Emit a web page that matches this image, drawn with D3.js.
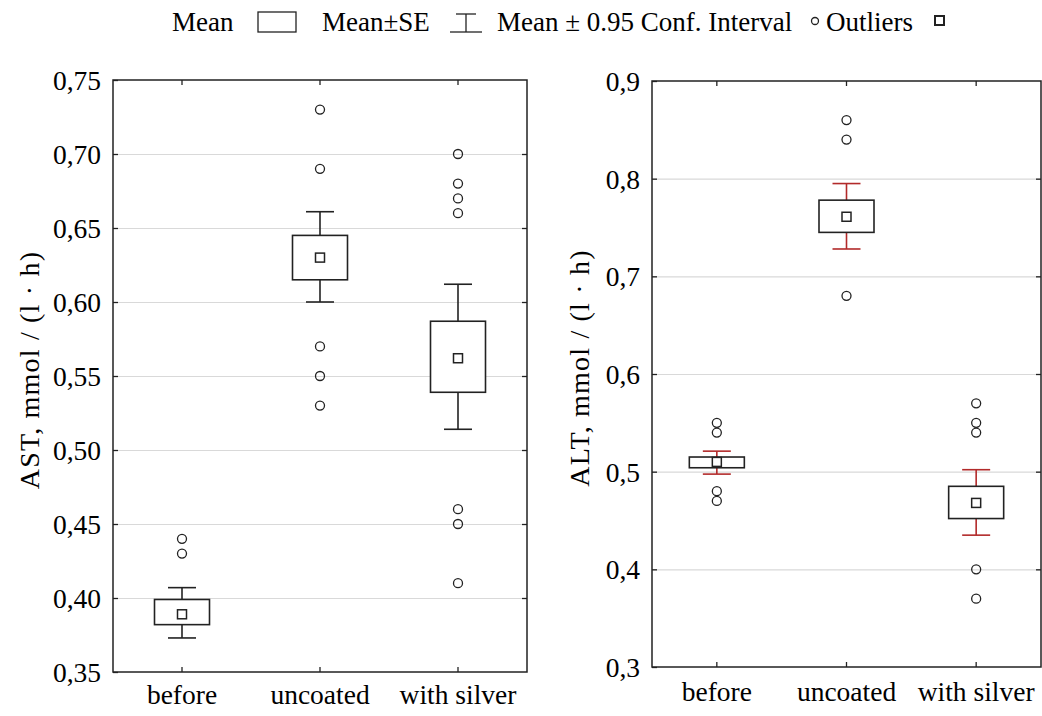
<!DOCTYPE html>
<html>
<head>
<meta charset="utf-8">
<script src="https://cdn.jsdelivr.net/npm/d3@7"></script>
<style>
  body { margin: 0; background: #fff; }
  svg text { font-family: "Liberation Serif", "Times New Roman", serif; fill: #000; }
  .axis .domain { display: none; }
  .axis line { stroke: #222; stroke-width: 1.3; }
  .grid line { stroke: #d9d9d9; stroke-width: 1.2; }
  .grid .domain { display: none; }
</style>
</head>
<body>
<svg id="chart" width="1042" height="716"></svg>
<script>
// categories
var categories = ["before", "uncoated", "with silver"];

// AST panel
var astMean = [0.389, 0.630, 0.562];
var astSeLow = [0.382, 0.615, 0.539];
var astSeHigh = [0.399, 0.645, 0.587];
var astCiLow = [0.373, 0.600, 0.514];
var astCiHigh = [0.407, 0.661, 0.612];
var astOutliers = [[0.44, 0.43], [0.73, 0.69, 0.57, 0.55, 0.53], [0.70, 0.68, 0.67, 0.66, 0.46, 0.45, 0.41]];
var astTicks = [0.35, 0.40, 0.45, 0.50, 0.55, 0.60, 0.65, 0.70, 0.75];

// ALT panel
var altMean = [0.510, 0.761, 0.468];
var altSeLow = [0.504, 0.745, 0.452];
var altSeHigh = [0.515, 0.778, 0.485];
var altCiLow = [0.4975, 0.728, 0.435];
var altCiHigh = [0.521, 0.795, 0.502];
var altOutliers = [[0.55, 0.54, 0.48, 0.47], [0.86, 0.84, 0.68], [0.57, 0.55, 0.54, 0.40, 0.37]];
var altTicks = [0.3, 0.4, 0.5, 0.6, 0.7, 0.8, 0.9];

var svg = d3.select("#chart");

function drawPanel(p) {
  var width = p.right - p.left,
      height = p.bottom - p.top,
      g = svg.append("g").attr("transform", "translate(" + p.left + "," + p.top + ")");

  var x = d3.scaleBand().domain(categories).range([0, width]).padding(0);
  var y = d3.scaleLinear().domain(p.domain).range([height, 0]);

  // gridlines, only inner ones
  g.append("g")
      .attr("class", "grid")
      .call(d3.axisLeft(y).tickValues(p.ticks.slice(1, -1)).tickSize(-width).tickFormat(""));

  // left axis with labels, ticks pointing inward
  var fmt = d3.format("." + p.decimals + "f");
  g.append("g")
      .attr("class", "axis")
      .call(d3.axisLeft(y).tickValues(p.ticks).tickSize(-5).tickPadding(12)
        .tickFormat(function(d) { return fmt(d).replace(".", ","); }))
    .selectAll("text")
      .attr("font-size", 27.5)
      .attr("dy", "0.35em");

  g.append("g")
      .attr("class", "axis")
      .attr("transform", "translate(" + width + ",0)")
      .call(d3.axisRight(y).tickValues(p.ticks.slice(1, -1)).tickSize(-5).tickFormat(""));

  // category ticks top and bottom
  g.append("g")
      .attr("class", "axis")
      .attr("transform", "translate(0," + height + ")")
      .call(d3.axisBottom(x).tickSize(-5).tickPadding(p.catPad))
    .selectAll("text")
      .attr("font-size", 27.5)
      .attr("dy", "0.71em");

  g.append("g")
      .attr("class", "axis")
      .call(d3.axisTop(x).tickSize(-5).tickFormat(""));

  // frame
  g.append("rect")
      .attr("width", width)
      .attr("height", height)
      .attr("fill", "none")
      .attr("stroke", "#222")
      .attr("stroke-width", 1.5);

  // axis title
  g.append("text")
      .attr("transform", "translate(" + p.titleX + "," + (height / 2 - 6) + ") rotate(-90)")
      .attr("text-anchor", "middle")
      .attr("font-size", 28)
      .attr("letter-spacing", 1.2)
      .text(p.title);

  var cx = function(i) { return x(categories[i]) + x.bandwidth() / 2; };
  var boxW = 55, capW = 28;

  categories.forEach(function(c, i) {
    var wc = p.whisker;
    // whiskers
    g.append("line")
        .attr("x1", cx(i)).attr("x2", cx(i))
        .attr("y1", y(p.ciHigh[i])).attr("y2", y(p.seHigh[i]))
        .attr("stroke", wc).attr("stroke-width", 1.6);
    g.append("line")
        .attr("x1", cx(i)).attr("x2", cx(i))
        .attr("y1", y(p.seLow[i])).attr("y2", y(p.ciLow[i]))
        .attr("stroke", wc).attr("stroke-width", 1.6);
    [p.ciHigh[i], p.ciLow[i]].forEach(function(v) {
      g.append("line")
          .attr("x1", cx(i) - capW / 2).attr("x2", cx(i) + capW / 2)
          .attr("y1", y(v)).attr("y2", y(v))
          .attr("stroke", wc).attr("stroke-width", 1.6);
    });
    // box
    g.append("rect")
        .attr("x", cx(i) - boxW / 2)
        .attr("y", y(p.seHigh[i]))
        .attr("width", boxW)
        .attr("height", y(p.seLow[i]) - y(p.seHigh[i]))
        .attr("fill", "#fff")
        .attr("stroke", "#222")
        .attr("stroke-width", 1.6);
    // mean marker
    g.append("rect")
        .attr("x", cx(i) - 4.5)
        .attr("y", y(p.mean[i]) - 4.5)
        .attr("width", 9).attr("height", 9)
        .attr("fill", "#fff")
        .attr("stroke", "#222")
        .attr("stroke-width", 1.5);
    // outliers
    g.selectAll(".out-" + i)
      .data(p.outliers[i])
      .enter().append("circle")
        .attr("class", "out-" + i)
        .attr("cx", cx(i))
        .attr("cy", function(d) { return y(d); })
        .attr("r", 4.5)
        .attr("fill", "none")
        .attr("stroke", "#222")
        .attr("stroke-width", 1.3);
  });
}

drawPanel({
  left: 113, right: 527, top: 80, bottom: 672,
  domain: [0.35, 0.75], ticks: astTicks, decimals: 2,
  mean: astMean, seLow: astSeLow, seHigh: astSeHigh,
  ciLow: astCiLow, ciHigh: astCiHigh, outliers: astOutliers,
  whisker: "#222", title: "AST, mmol / (l · h)", titleX: -74, catPad: 12
});

drawPanel({
  left: 652, right: 1041, top: 81, bottom: 667,
  domain: [0.3, 0.9], ticks: altTicks, decimals: 1,
  mean: altMean, seLow: altSeLow, seHigh: altSeHigh,
  ciLow: altCiLow, ciHigh: altCiHigh, outliers: altOutliers,
  whisker: "#b22a2a", title: "ALT, mmol / (l · h)", titleX: -63, catPad: 14
});

// legend
var legend = svg.append("g").attr("font-size", 27);
legend.append("text").attr("x", 172).attr("y", 31).text("Mean");
legend.append("rect").attr("x", 258).attr("y", 12).attr("width", 38).attr("height", 20)
    .attr("fill", "none").attr("stroke", "#222").attr("stroke-width", 1.3);
legend.append("text").attr("x", 322).attr("y", 31).text("Mean±SE");
legend.append("line").attr("x1", 456).attr("x2", 476).attr("y1", 14).attr("y2", 14).attr("stroke", "#222").attr("stroke-width", 1.3);
legend.append("line").attr("x1", 466).attr("x2", 466).attr("y1", 14).attr("y2", 32).attr("stroke", "#222").attr("stroke-width", 1.3);
legend.append("line").attr("x1", 450).attr("x2", 482).attr("y1", 32).attr("y2", 32).attr("stroke", "#222").attr("stroke-width", 1.3);
legend.append("text").attr("x", 497).attr("y", 31).text("Mean ± 0.95 Conf. Interval");
legend.append("circle").attr("cx", 815).attr("cy", 21).attr("r", 3.5)
    .attr("fill", "none").attr("stroke", "#222").attr("stroke-width", 1.3);
legend.append("text").attr("x", 826).attr("y", 31).text("Outliers");
legend.append("rect").attr("x", 935).attr("y", 16).attr("width", 9).attr("height", 9)
    .attr("fill", "none").attr("stroke", "#222").attr("stroke-width", 2);
</script>
</body>
</html>
